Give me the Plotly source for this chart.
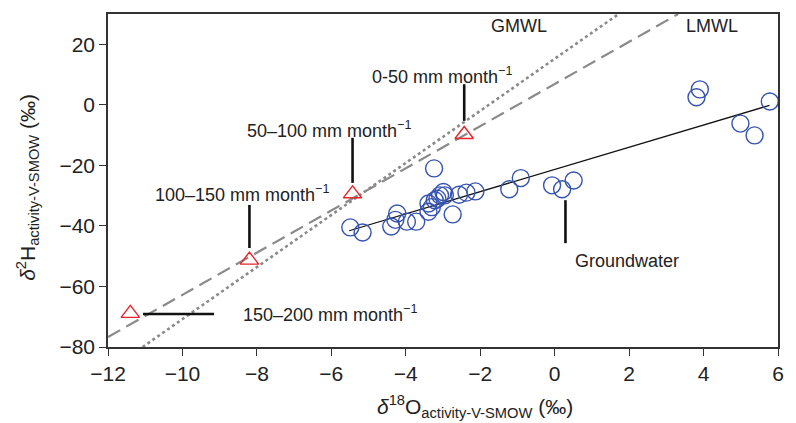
import plotly.graph_objects as go

# Groundwater samples (delta18O, delta2H)
gw_d18o = [-5.49, -5.16, -3.24, -4.23, -4.28, -4.39, -3.97, -3.72, -3.39, -3.39, -3.22,
           -3.08, -2.99, -2.95, -2.74, -2.57, -2.37, -2.13, -1.22, -0.91, -0.07, 0.20,
           0.51, 3.90, 3.81, 5.78, 4.99, 5.37, -3.30, -3.15]
gw_d2h = [-40.5, -42.2, -21.0, -35.9, -38.0, -40.2, -38.6, -38.6, -35.3, -32.6, -31.5,
          -29.9, -28.8, -29.9, -36.2, -29.7, -29.0, -28.6, -27.9, -24.2, -26.6, -27.9,
          -25.0, 5.1, 2.5, 1.1, -6.2, -10.1, -33.8, -31.0]

# Precipitation classes (triangles)
rain_labels = ["150–200 mm month<sup>−1</sup>", "100–150 mm month<sup>−1</sup>",
               "50–100 mm month<sup>−1</sup>", "0-50 mm month<sup>−1</sup>"]
rain_d18o = [-11.40, -8.20, -5.43, -2.43]
rain_d2h = [-68.9, -51.3, -29.4, -9.8]

# Meteoric water lines (endpoints)
gmwl_x = [-11.07, 1.72]
gmwl_y = [-80.0, 30.0]
lmwl_x = [-12.0, 3.32]
lmwl_y = [-76.7, 30.0]
# Groundwater regression line
reg_x = [-5.52, 5.77]
reg_y = [-41.6, -0.2]

x_ticks = [-12, -10, -8, -6, -4, -2, 0, 2, 4, 6]
y_ticks = [-80, -60, -40, -20, 0, 20]

FONT = "Liberation Sans, Arial, sans-serif"
TXT = "#222222"

fig = go.Figure()
fig.add_trace(go.Scatter(x=gmwl_x, y=gmwl_y, mode="lines",
                         line=dict(color="#8a8a8a", width=2.6, dash="dot"), showlegend=False))
fig.add_trace(go.Scatter(x=lmwl_x, y=lmwl_y, mode="lines",
                         line=dict(color="#8a8a8a", width=2.2, dash="14px,7px"), showlegend=False))
fig.add_trace(go.Scatter(x=reg_x, y=reg_y, mode="lines",
                         line=dict(color="#111111", width=1.3), showlegend=False))
fig.add_trace(go.Scatter(x=gw_d18o, y=gw_d2h, mode="markers",
                         marker=dict(symbol="circle-open", size=17, color="#3553b0",
                                     line=dict(width=1.4, color="#3553b0")),
                         showlegend=False))
fig.add_trace(go.Scatter(x=rain_d18o, y=rain_d2h, mode="markers",
                         marker=dict(symbol="triangle-up-open", size=16, color="#e8232a",
                                     line=dict(width=1.4, color="#e8232a")),
                         showlegend=False))

# Leader lines
leaders = [
    (-2.43, 6.8, -2.43, -5.3),
    (-5.43, -10.9, -5.43, -25.8),
    (-8.20, -33.1, -8.20, -47.3),
    (-11.06, -69.1, -9.15, -69.1),
    (0.29, -31.5, 0.29, -45.7),
]
for x0, y0, x1, y1 in leaders:
    fig.add_shape(type="line", x0=x0, y0=y0, x1=x1, y1=y1, xref="x", yref="y",
                  line=dict(color="#111111", width=2.6))

ann_font = dict(family=FONT, size=18, color=TXT)
anns = [
    dict(x=-3.04, y=9.7, text=rain_labels[3], xanchor="center"),
    dict(x=-6.07, y=-8.1, text=rain_labels[2], xanchor="center"),
    dict(x=-8.41, y=-29.3, text=rain_labels[1], xanchor="center"),
    dict(x=-8.44, y=-69.0, text=rain_labels[0], xanchor="left"),
    dict(x=0.48, y=-51.6, text="Groundwater", xanchor="left"),
    dict(x=-1.76, y=26.0, text="GMWL", xanchor="left"),
    dict(x=3.48, y=26.0, text="LMWL", xanchor="left"),
]
for a in anns:
    fig.add_annotation(xref="x", yref="y", showarrow=False, yanchor="middle",
                       font=ann_font, **a)

# Axis titles
fig.add_annotation(xref="paper", yref="paper", x=0.548, y=0, yshift=-59,
                   text="<i>δ</i><sup>18</sup>O<sub>activity-V-SMOW</sub> (‰)",
                   showarrow=False, xanchor="center", yanchor="middle",
                   font=dict(family=FONT, size=21, color=TXT))
fig.add_annotation(xref="paper", yref="paper", x=0, xshift=-80, y=0.478,
                   text="<i>δ</i><sup>2</sup>H<sub>activity-V-SMOW</sub> (‰)",
                   showarrow=False, xanchor="center", yanchor="middle", textangle=-90,
                   font=dict(family=FONT, size=21, color=TXT))

axis_common = dict(showgrid=False, zeroline=False, showline=True, linecolor="#333333",
                   linewidth=1.6, mirror=True, ticks="outside", ticklen=7,
                   tickwidth=1.4, tickcolor="#333333",
                   tickfont=dict(family=FONT, size=21, color=TXT))
fig.update_xaxes(range=[-12, 6], tickvals=x_ticks, **axis_common)
fig.update_yaxes(range=[-80, 30], tickvals=y_ticks, **axis_common)

fig.update_layout(width=796, height=423, margin=dict(l=108, r=13, t=12, b=76),
                  plot_bgcolor="white", paper_bgcolor="white")

fig.write_html("out.html")
